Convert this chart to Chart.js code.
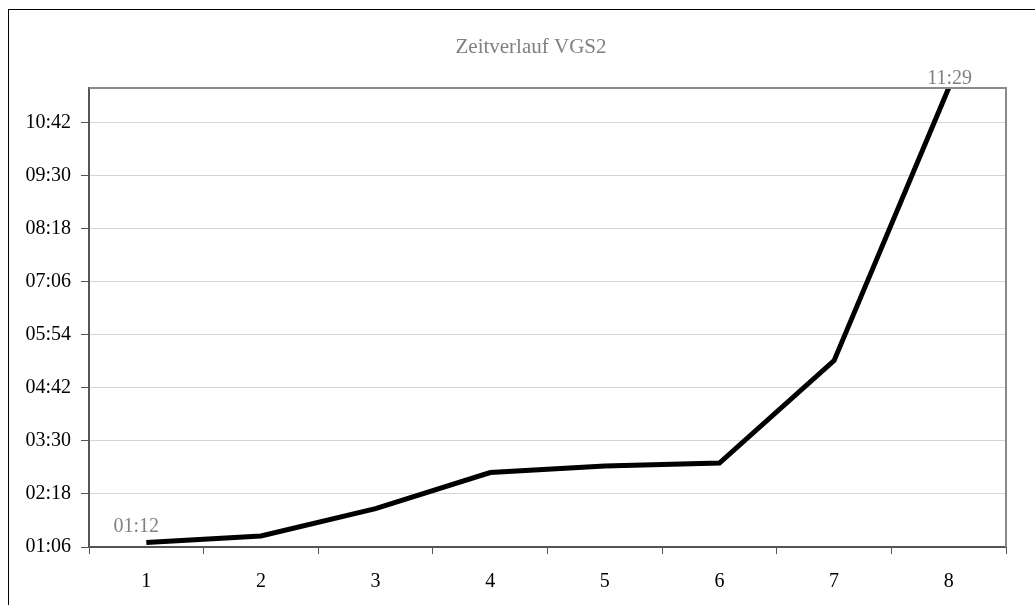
<!DOCTYPE html>
<html>
<head>
<meta charset="utf-8">
<script src="https://cdn.jsdelivr.net/npm/chart.js@4.4.1/dist/chart.umd.min.js"></script>
<style>
  html, body { margin: 0; padding: 0; background: #ffffff; }
  #wrap { width: 1035px; height: 605px; position: relative; }
</style>
</head>
<body>
<div id="wrap"><canvas id="chart" width="1035" height="605"></canvas></div>
<script>
// Runs of the VGS2 series and their elapsed times (mm:ss)
const categories = ['1', '2', '3', '4', '5', '6', '7', '8'];
const durations = ['01:12', '01:21', '01:58', '02:47', '02:56', '03:00', '05:19', '11:29'];
// Value axis tick labels (mm:ss)
const yTickLabels = ['01:06', '02:18', '03:30', '04:42', '05:54', '07:06', '08:18', '09:30', '10:42'];
// Which points carry a value label
const labelledPoints = [0, 7];
const chartTitle = 'Zeitverlauf VGS2';

function toSeconds(s) {
  const [m, sec] = s.split(':').map(Number);
  return m * 60 + sec;
}
function toClock(v) {
  const m = Math.floor(v / 60), s = Math.round(v % 60);
  return String(m).padStart(2, '0') + ':' + String(s).padStart(2, '0');
}

const values = durations.map(toSeconds);
const yTicks = yTickLabels.map(toSeconds);

const FONT = "'Liberation Serif', 'Times New Roman', serif";
Chart.defaults.font.family = FONT;
Chart.defaults.color = '#000000';

// Outer frame, title, plot frame and value labels
const decorations = {
  id: 'decorations',
  beforeDraw(chart) {
    const ctx = chart.ctx;
    ctx.save();
    ctx.fillStyle = '#ffffff';
    ctx.fillRect(0, 0, chart.width, chart.height);
    ctx.strokeStyle = '#000000';
    ctx.lineWidth = 1;
    ctx.strokeRect(8.5, 9.5, 2000, 2000);
    ctx.fillStyle = '#808080';
    ctx.font = '21px ' + FONT;
    ctx.textAlign = 'center';
    ctx.textBaseline = 'alphabetic';
    ctx.fillText(chartTitle, 531, 53);
    ctx.restore();
  },
  afterDatasetsDraw(chart) {
    const ctx = chart.ctx;
    const a = chart.chartArea;
    ctx.save();
    ctx.strokeStyle = '#8a8a8a';
    ctx.lineWidth = 2;
    ctx.beginPath();
    ctx.moveTo(a.left, a.top);
    ctx.lineTo(a.right, a.top);
    ctx.lineTo(a.right, a.bottom);
    ctx.stroke();

    const meta = chart.getDatasetMeta(0);
    ctx.fillStyle = '#808080';
    ctx.font = '20px ' + FONT;
    ctx.textAlign = 'center';
    ctx.textBaseline = 'alphabetic';
    labelledPoints.forEach(i => {
      const p = meta.data[i];
      const dx = i === 0 ? -10 : 1;
      const dy = i === 0 ? -11 : -4;
      ctx.fillText(durations[i], p.x + dx, p.y + dy);
    });
    ctx.restore();
  }
};

new Chart(document.getElementById('chart'), {
  type: 'line',
  data: {
    labels: categories,
    datasets: [{
      data: values,
      borderColor: '#000000',
      borderWidth: 5,
      pointRadius: 0,
      pointHoverRadius: 0,
      tension: 0,
      fill: false
    }]
  },
  options: {
    responsive: false,
    animation: false,
    events: [],
    layout: { padding: { top: 88, right: 29, left: 0, bottom: 0 } },
    plugins: {
      legend: { display: false },
      title: { display: false },
      tooltip: { enabled: false }
    },
    scales: {
      x: {
        type: 'category',
        offset: true,
        grid: {
          offset: true,
          drawOnChartArea: false,
          drawTicks: true,
          tickLength: 7,
          tickColor: '#555555',
          tickWidth: 1
        },
        border: { display: true, color: '#555555', width: 2 },
        ticks: { color: '#000000', font: { size: 20 }, padding: 16, maxRotation: 0 },
        afterFit(scale) { scale.height = 58; }
      },
      y: {
        type: 'linear',
        min: yTicks[0],
        max: Math.max(...values),
        afterBuildTicks(scale) {
          scale.ticks = yTicks.map(v => ({ value: v }));
        },
        grid: {
          color: '#d4d4d4',
          lineWidth: 1,
          drawTicks: true,
          tickLength: 8,
          tickColor: '#555555',
          tickWidth: 1
        },
        border: { display: true, color: '#555555', width: 2 },
        ticks: {
          color: '#000000',
          font: { size: 20 },
          padding: 10,
          callback: v => toClock(v)
        },
        afterFit(scale) { scale.width = 89; }
      }
    }
  },
  plugins: [decorations]
});
</script>
</body>
</html>
